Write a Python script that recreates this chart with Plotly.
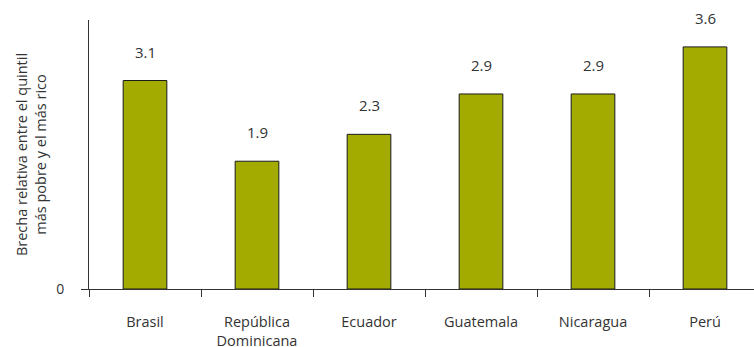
import plotly.graph_objects as go

categories = ["Brasil", "República<br>Dominicana", "Ecuador", "Guatemala", "Nicaragua", "Perú"]
values = [3.1, 1.9, 2.3, 2.9, 2.9, 3.6]
value_labels = ["3.1", "1.9", "2.3", "2.9", "2.9", "3.6"]

FONT = "Open Sans"
TXT = "#333333"

fig = go.Figure()
fig.add_trace(go.Bar(
    x=categories, y=values,
    width=0.39,
    marker=dict(color="#a3ab00", line=dict(color="#1a1a1a", width=1)),
    hoverinfo="skip",
))

for c, v, t in zip(categories, values, value_labels):
    fig.add_annotation(x=c, y=v, text=t, showarrow=False, yanchor="bottom",
                       yshift=17, font=dict(family=FONT, size=15, color=TXT))

fig.update_layout(
    width=754, height=347,
    margin=dict(l=89, r=0, t=20, b=58),
    plot_bgcolor="white", paper_bgcolor="white",
    showlegend=False,
    xaxis=dict(
        type="category",
        range=[-0.5, 5.4375],
        automargin=False,
        showline=True, linecolor="#333333", linewidth=1,
        ticks="outside", tickson="boundaries", ticklen=7, tickcolor="#333333",
        tickfont=dict(family=FONT, size=14.5, color=TXT),
        ticklabelstandoff=20,
        showgrid=False, zeroline=False,
    ),
    yaxis=dict(
        range=[0, 4],
        automargin=False,
        tickvals=[0], ticktext=["0"],
        showline=True, linecolor="#333333", linewidth=1,
        ticks="outside", ticklen=7, tickcolor="#333333",
        tickfont=dict(family=FONT, size=14, color=TXT),
        ticklabelstandoff=14,
        showgrid=False, zeroline=False,
        title=dict(text="Brecha relativa entre el quintil<br>más pobre y el más rico",
                   font=dict(family=FONT, size=14.5, color=TXT), standoff=6),
    ),
)

fig.write_html("out.html")
